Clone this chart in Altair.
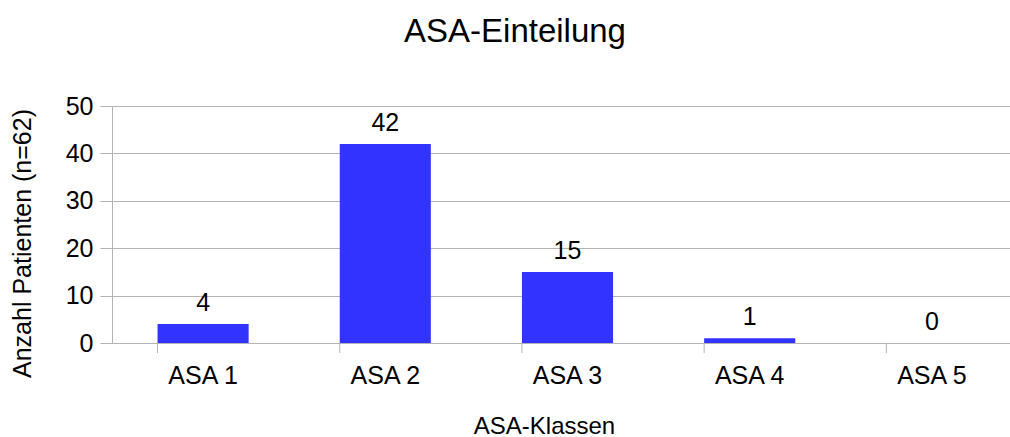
import altair as alt
import pandas as pd

# ASA classes and patient counts (n=62)
klassen = ["ASA 1", "ASA 2", "ASA 3", "ASA 4", "ASA 5"]
anzahl = [4, 42, 15, 1, 0]

df = pd.DataFrame({"Klasse": klassen, "Anzahl": anzahl})

FONT = "Liberation Sans"
GRID = "#b3b3b3"
BAR = "#3333ff"

x_scale = alt.Scale(range=[0, 911], paddingInner=0.5, paddingOuter=0.25)

x_enc = alt.X(
    "Klasse:N",
    sort=klassen,
    scale=x_scale,
    axis=alt.Axis(
        title="ASA-Klassen",
        labelAngle=0,
        labelFontSize=25,
        labelPadding=20,
        ticks=False,
        domainColor=GRID,
        grid=False,
        titleFontSize=24,
        titleFontWeight="normal",
        titleX=432,
        titleY=90,
        titleBaseline="alphabetic",
        titleAlign="center",
    ),
)

y_enc = alt.Y(
    "Anzahl:Q",
    scale=alt.Scale(domain=[0, 50], nice=False),
    axis=alt.Axis(
        title="Anzahl Patienten (n=62)",
        values=[0, 10, 20, 30, 40, 50],
        labelFontSize=25,
        labelPadding=7,
        tickSize=12,
        tickColor=GRID,
        domainColor=GRID,
        gridColor=GRID,
        titleFontSize=25,
        titleFontWeight="normal",
        titleX=-82,
        titleY=137,
        titleAngle=270,
        titleBaseline="alphabetic",
        titleAlign="center",
    ),
)

bars = alt.Chart(df).mark_bar(color=BAR).encode(x=x_enc, y=y_enc)

# category separators below the baseline, at the start of each band
sep_ticks = alt.Chart(df).mark_rule(color=GRID, strokeWidth=1).encode(
    x=alt.X("Klasse:N", sort=klassen, bandPosition=0),
    y=alt.value(237),
    y2=alt.value(247),
)

labels = alt.Chart(df).mark_text(
    fontSize=25, font=FONT, color="black", baseline="alphabetic", dy=-13
).encode(
    x=alt.X("Klasse:N", sort=klassen),
    y=alt.Y("Anzahl:Q"),
    text=alt.Text("Anzahl:Q"),
)

chart = (
    alt.layer(bars, sep_ticks, labels)
    .properties(
        width=898,
        height=237,
        autosize=alt.AutoSizeParams(type="none"),
        padding={"left": 112, "top": 106, "right": 0, "bottom": 94},
        title=alt.TitleParams(
            "ASA-Einteilung",
            fontSize=33,
            fontWeight="normal",
            font=FONT,
            color="black",
            anchor="middle",
            dx=-46,
            dy=-41,
        ),
    )
    .configure(font=FONT)
    .configure_view(stroke=None)
    .configure_axis(labelColor="black", titleColor="black", labelFont=FONT, titleFont=FONT)
)

chart.save("out.html", embed_options={"renderer": "svg", "actions": False})
